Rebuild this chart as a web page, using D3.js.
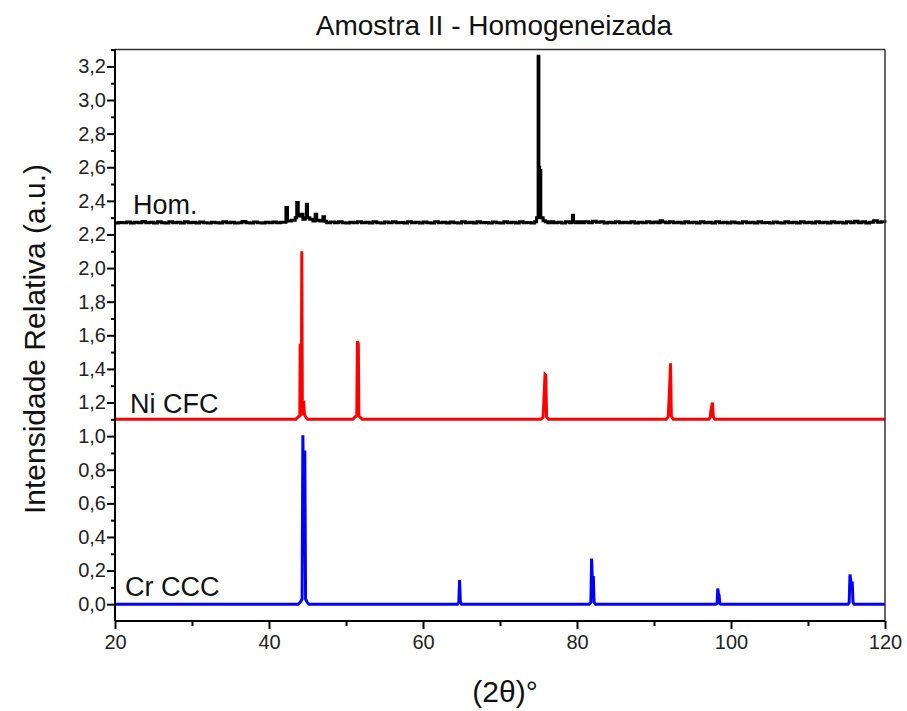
<!DOCTYPE html>
<html><head><meta charset="utf-8">
<script src="https://cdn.jsdelivr.net/npm/d3@7/dist/d3.min.js"></script>
<style>body{margin:0;background:#fff;} text{font-family:"Liberation Sans",Arial,sans-serif;}</style>
</head><body>
<svg id="c" width="907" height="711"></svg>
<script>
const title = "Amostra II - Homogeneizada";
const xLabel = "(2θ)°";
const yLabel = "Intensidade Relativa (a.u.)";
const seriesNames = ["Hom.", "Ni CFC", "Cr CCC"];
const seriesColors = ["#000000", "#ff0000", "#0000ff"];
const xTicks = [20, 40, 60, 80, 100, 120];
const xMinor = [30, 50, 70, 90, 110];
const yTicks = [0,0.2,0.4,0.6,0.8,1.0,1.2,1.4,1.6,1.8,2.0,2.2,2.4,2.6,2.8,3.0,3.2];
const yMinor = [0.1,0.3,0.5,0.7,0.9,1.1,1.3,1.5,1.7,1.9,2.1,2.3,2.5,2.7,2.9,3.1,3.3];

const homData = [
[20,2.268],[20.5,2.271],[21,2.269],[21.5,2.274],[22,2.268],[22.5,2.272],[23,2.27],[23.5,2.277],[24,2.269],[24.5,2.272],
[25,2.268],[25.5,2.275],[26,2.27],[26.5,2.268],[27,2.276],[27.5,2.27],[28,2.272],[28.5,2.268],[29,2.275],[29.5,2.27],
[30,2.272],[30.5,2.268],[31,2.274],[31.5,2.27],[32,2.268],[32.5,2.273],[33,2.27],[33.5,2.268],[34,2.275],[34.5,2.27],
[35,2.272],[35.5,2.268],[36,2.27],[36.5,2.277],[37,2.27],[37.5,2.268],[38,2.274],[38.5,2.27],[39,2.268],[39.5,2.272],
[40,2.27],[40.5,2.274],[41,2.27],[41.5,2.272],[42,2.272],[42.2,2.36],[42.4,2.28],[42.9,2.285],[43.4,2.3],[43.6,2.39],
[43.8,2.31],[44.1,2.32],[44.4,2.29],[44.7,2.3],[44.85,2.38],[45.0,2.3],[45.3,2.29],[45.7,2.28],[46.0,2.32],[46.2,2.285],
[46.6,2.28],[47.0,2.305],[47.2,2.278],[47.5,2.27],[48,2.274],[48.5,2.27],[49,2.276],[49.5,2.27],[50,2.268],[50.5,2.273],
[51,2.27],[51.5,2.275],[52,2.269],[52.5,2.272],[53,2.268],[53.5,2.275],[54,2.27],[54.5,2.268],[55,2.274],[55.5,2.27],
[56,2.276],[56.5,2.269],[57,2.271],[57.5,2.268],[58,2.275],[58.5,2.27],[59,2.272],[59.5,2.268],[60,2.274],[60.5,2.27],
[61,2.268],[61.5,2.275],[62,2.27],[62.5,2.272],[63,2.268],[63.5,2.274],[64,2.27],[64.5,2.268],[65,2.275],[65.5,2.27],
[66,2.272],[66.5,2.268],[67,2.276],[67.5,2.27],[68,2.271],[68.5,2.268],[69,2.274],[69.5,2.27],[70,2.268],[70.5,2.275],
[71,2.27],[71.5,2.272],[72,2.268],[72.5,2.275],[73,2.27],[73.5,2.271],[74,2.268],[74.5,2.275],[74.75,2.3],[74.95,3.26],
[75.05,2.6],[75.15,2.58],[75.3,2.3],[75.6,2.282],[75.9,2.275],[76.2,2.27],[76.6,2.275],[77,2.27],[77.5,2.273],[78,2.268],
[78.5,2.275],[79,2.27],[79.3,2.272],[79.4,2.315],[79.55,2.276],[79.8,2.27],[80.2,2.276],[80.6,2.27],[81,2.275],[81.5,2.27],
[82,2.279],[82.5,2.272],[83,2.275],[83.5,2.268],[84,2.273],[84.5,2.27],[85,2.275],[85.5,2.269],[86,2.272],[86.5,2.27],
[87,2.275],[87.5,2.268],[88,2.272],[88.5,2.27],[89,2.275],[89.5,2.27],[90,2.274],[90.5,2.27],[90.8,2.282],[91.1,2.274],
[91.5,2.27],[92,2.275],[92.5,2.27],[93,2.273],[93.5,2.268],[94,2.275],[94.5,2.27],[95,2.272],[95.5,2.268],[96,2.275],
[96.5,2.27],[97,2.273],[97.5,2.268],[98,2.276],[98.5,2.27],[99,2.272],[99.5,2.268],[100,2.274],[100.5,2.27],[101,2.268],
[101.5,2.275],[102,2.27],[102.5,2.272],[103,2.268],[103.5,2.276],[104,2.27],[104.5,2.271],[105,2.268],[105.5,2.274],[106,2.27],
[106.5,2.268],[107,2.275],[107.5,2.27],[108,2.272],[108.5,2.268],[109,2.276],[109.5,2.27],[110,2.273],[110.5,2.268],[111,2.275],
[111.5,2.27],[112,2.272],[112.5,2.268],[113,2.276],[113.5,2.27],[114,2.273],[114.5,2.268],[115,2.275],[115.5,2.27],[116,2.279],
[116.5,2.27],[117,2.276],[117.5,2.268],[118,2.273],[118.5,2.281],[119,2.272],[119.5,2.276],[120,2.27]
];

const niData = [
[20,1.1],[43.5,1.1],[43.8,1.115],[44.0,1.12],[44.05,1.55],[44.12,1.13],[44.2,1.13],[44.26,2.1],[44.33,1.15],[44.5,1.21],
[44.6,1.13],[44.75,1.115],[45.0,1.1],[50.9,1.1],[51.2,1.115],[51.4,1.12],[51.48,1.565],[51.6,1.55],[51.67,1.12],[51.8,1.115],
[52.1,1.1],[75.3,1.1],[75.6,1.112],[75.85,1.365],[75.95,1.36],[76.05,1.115],[76.3,1.1],[91.6,1.1],[91.85,1.115],[92.0,1.26],
[92.15,1.433],[92.25,1.12],[92.5,1.1],[97.1,1.1],[97.3,1.112],[97.4,1.155],[97.6,1.2],[97.7,1.115],[97.9,1.1],[120,1.1]
];

const crData = [
[20,0],[43.8,0],[44.1,0.015],[44.3,0.03],[44.4,1.005],[44.55,0.3],[44.65,0.915],[44.75,0.03],[44.95,0.012],[45.2,0],
[64.5,0],[64.65,0.01],[64.75,0.143],[64.85,0.015],[65.0,0],[81.6,0],[81.8,0.012],[81.9,0.272],[82.02,0.1],[82.12,0.168],
[82.22,0.012],[82.4,0],[98.0,0],[98.2,0.005],[98.28,0.093],[98.38,0.06],[98.45,0.055],[98.55,0.005],[98.7,0],[115.2,0],[115.35,0.01],
[115.45,0.177],[115.62,0.12],[115.75,0.123],[115.85,0.01],[116.0,0],[120,0]
];
const seriesData = [homData, niData, crData];

const L = 115, R = 885, T = 49.6, B = 621;
const x = d3.scaleLinear().domain([20,120]).range([L,R]);
const y = d3.scaleLinear().domain([-0.1,3.3]).range([B,T]);
const svg = d3.select("#c");

// series
const line = d3.line().x(d=>x(d[0])).y(d=>y(d[1]));
const stepLine = d3.line().x(d=>x(d[0])).y(d=>y(d[1])).curve(d3.curveStepAfter);
seriesData.forEach((d,i)=>{
  svg.append("path").datum(d).attr("d", i===0 ? stepLine : line).attr("fill","none")
    .attr("stroke",seriesColors[i]).attr("stroke-width",3).attr("stroke-linejoin","miter");
});

// frame
svg.append("line").attr("x1",L).attr("x2",R).attr("y1",T).attr("y2",T).attr("stroke","#333").attr("stroke-width",1.5);
svg.append("line").attr("x1",R).attr("x2",R).attr("y1",T).attr("y2",B).attr("stroke","#333").attr("stroke-width",1.5);

// axes
const fmt = d=>d3.format(".1f")(d).replace(".",",");
const yAx = svg.append("g").attr("transform",`translate(${L},0)`)
  .call(d3.axisLeft(y).tickValues(yTicks).tickFormat(fmt).tickSize(8).tickPadding(1));
const yAxm = svg.append("g").attr("transform",`translate(${L},0)`)
  .call(d3.axisLeft(y).tickValues(yMinor).tickFormat("").tickSize(4));
const xAx = svg.append("g").attr("transform",`translate(0,${B})`)
  .call(d3.axisBottom(x).tickValues(xTicks).tickFormat(d3.format("d")).tickSize(8).tickPadding(6));
const xAxm = svg.append("g").attr("transform",`translate(0,${B})`)
  .call(d3.axisBottom(x).tickValues(xMinor).tickFormat("").tickSize(5));
[yAx,yAxm,xAx,xAxm].forEach(g=>{
  g.select(".domain").attr("stroke","#000").attr("stroke-width",2);
  g.selectAll(".tick line").attr("stroke","#000").attr("stroke-width",2);
  g.selectAll(".tick text").attr("fill","#222").style("font-size","20px").style("font-family","'Liberation Sans',Arial,sans-serif");
});
yAx.select(".domain").attr("d",`M0,${B}V${T}`);
xAx.select(".domain").attr("d",`M${L},0H${R}`);
yAxm.select(".domain").remove(); xAxm.select(".domain").remove();

// labels
svg.append("text").attr("x",494).attr("y",35).attr("text-anchor","middle").style("font-size","28px").attr("fill","#111").text(title);
svg.append("text").attr("x",505).attr("y",702).attr("text-anchor","middle").style("font-size","30px").attr("fill","#111").text(xLabel);
svg.append("text").attr("transform","translate(45,339) rotate(-90)").attr("text-anchor","middle").style("font-size","30px").attr("fill","#111").text(yLabel);
const lx = [133,130,125], ly = [214,413,596];
seriesNames.forEach((n,i)=>{
  svg.append("text").attr("x",lx[i]).attr("y",ly[i]).style("font-size","27px").attr("fill","#111").text(n);
});
</script>
</body></html>
